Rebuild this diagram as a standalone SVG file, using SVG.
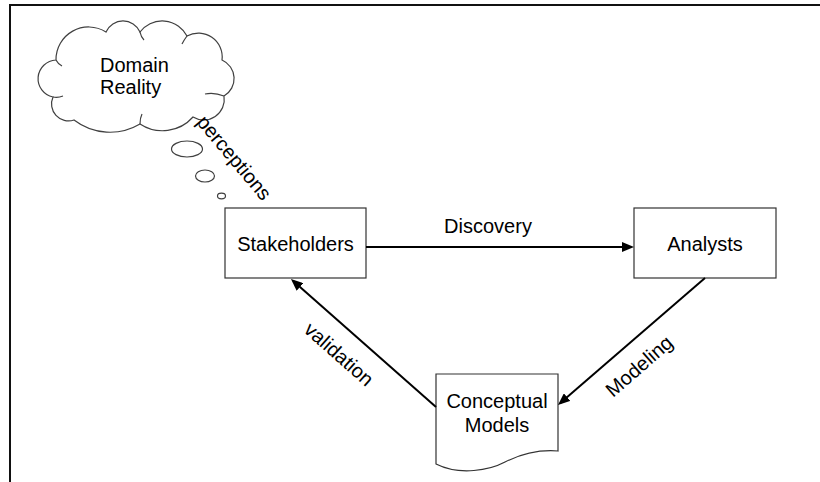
<svg xmlns="http://www.w3.org/2000/svg" width="820" height="482" viewBox="0 0 820 482">
  <defs>
    <style>
      .lbl { font-family: "Liberation Sans", Arial, sans-serif; font-size: 20px; fill: #000; }
      .mid { text-anchor: middle; }
      .box { fill: #fff; stroke: #333; stroke-width: 1.2; }
      .cloud { fill: #fff; stroke: #404040; stroke-width: 1.2; }
      .bubble { fill: #fff; stroke: #404040; stroke-width: 1.2; }
      .edge { fill: none; stroke: #000; stroke-width: 2; }
      .frame { fill: none; stroke: #111; stroke-width: 2; }
    </style>
    <marker id="arrow" viewBox="0 0 12 10" refX="9" refY="5" markerWidth="12" markerHeight="10" markerUnits="userSpaceOnUse" orient="auto">
      <path d="M0,0 L12,5 L0,10 Z" fill="#000"/>
    </marker>
  </defs>

  <!-- page frame (top and left edges) -->
  <path class="frame" d="M10,482 V5 H820"/>

  <!-- thought cloud with bubbles -->
  <g id="domain-reality">
    <path class="cloud" d="M56,60
      A32.6,32.6 0 0 1 106,32
      A18.6,18.6 0 0 1 140,32
      A27.9,27.9 0 0 1 187,36
      A23.8,23.8 0 0 1 222,60
      A20.2,20.2 0 0 1 224,96
      A20.6,20.6 0 0 1 193,117
      A40.8,40.8 0 0 1 140,124
      A59,59 0 0 1 74,120
      A17,17 0 0 1 53,97
      A18.7,18.7 0 0 1 56,60 Z"/>
    <!-- inner curls where the lobes meet -->
    <path class="cloud" fill="none" d="M56,60 Q58,64 62,66"/>
    <path class="cloud" fill="none" d="M140,32 Q141,37 144,40"/>
    <path class="cloud" fill="none" d="M187,36 Q184,40 182,44"/>
    <path class="cloud" fill="none" d="M224,96 Q214,92 205,94"/>
    <path class="cloud" fill="none" d="M140,124 Q140,118 142,114"/>
    <path class="cloud" fill="none" d="M53,97 Q58,98 63,96"/>
    <text class="lbl" x="100" y="72">Domain</text>
    <text class="lbl" x="100" y="94">Reality</text>
  </g>
  <g id="thought-bubbles">
    <ellipse class="bubble" cx="187" cy="149" rx="15.5" ry="8"/>
    <ellipse class="bubble" cx="205" cy="176" rx="9.5" ry="6"/>
    <ellipse class="bubble" cx="221.5" cy="196" rx="4" ry="2.8"/>
  </g>

  <!-- nodes -->
  <g id="stakeholders">
    <rect class="box" x="225" y="208" width="141" height="70"/>
    <text class="lbl mid" x="295.5" y="251">Stakeholders</text>
  </g>
  <g id="analysts">
    <rect class="box" x="634" y="208" width="142" height="70"/>
    <text class="lbl mid" x="705" y="251">Analysts</text>
  </g>
  <g id="conceptual-models">
    <path class="box" d="M436,374 H558 V451 C545,450 525,452 505,462 C490,470 460,476 436,464 Z"/>
    <text class="lbl mid" x="497" y="408">Conceptual</text>
    <text class="lbl mid" x="497" y="432">Models</text>
  </g>

  <!-- connectors -->
  <g id="connectors">
    <line class="edge" x1="366" y1="247" x2="631" y2="247" marker-end="url(#arrow)"/>
    <line class="edge" x1="705" y1="278" x2="560.3" y2="403" marker-end="url(#arrow)"/>
    <line class="edge" x1="436" y1="407" x2="293.2" y2="281" marker-end="url(#arrow)"/>
  </g>

  <!-- connector labels -->
  <g id="labels">
    <text class="lbl mid" x="488" y="233">Discovery</text>
    <text class="lbl mid" transform="translate(643.6,371.3) rotate(-41)">Modeling</text>
    <text class="lbl mid" transform="translate(334.4,359.3) rotate(41.5)">validation</text>
    <text class="lbl mid" transform="translate(229,162) rotate(50)">perceptions</text>
  </g>
</svg>
